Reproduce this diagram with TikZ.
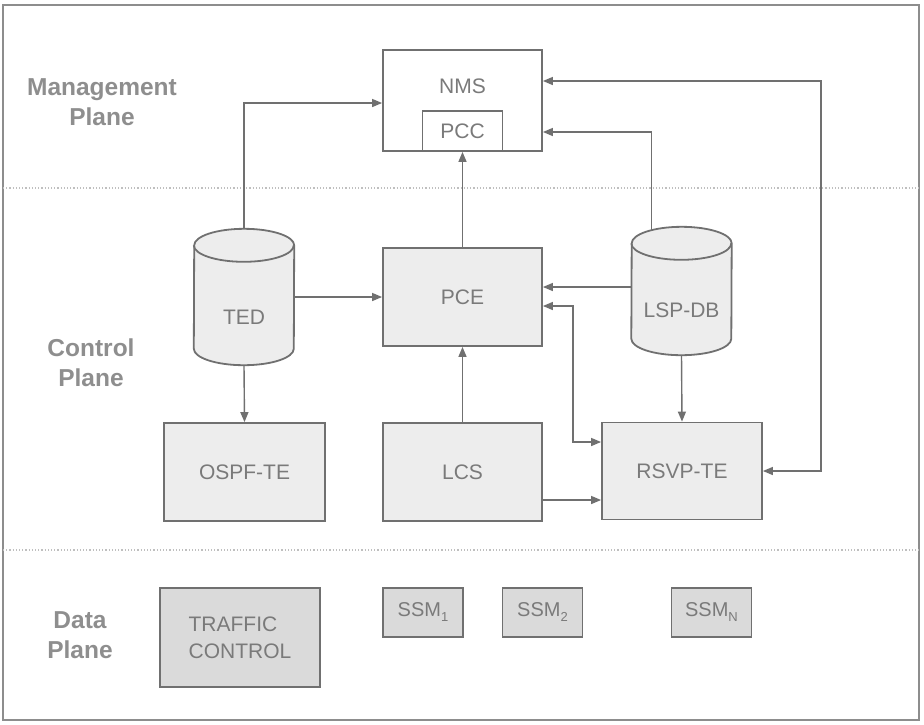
\documentclass[tikz,border=0pt]{standalone}
\usepackage{fontspec}
\setmainfont{Liberation Sans}
\usetikzlibrary{arrows.meta}

\definecolor{linegray}{HTML}{707070}
\definecolor{textgray}{HTML}{7A7A7A}
\definecolor{boxfill}{HTML}{EDEDED}
\definecolor{datafill}{HTML}{DADADA}

\newcommand{\sub}[1]{\raisebox{-5pt}{\fontsize{13}{13}\selectfont #1}}
% database drum drawn round an empty node, #2 = depth of the end caps
\newcommand{\dbshape}[2]{%
	\draw[draw=linegray, line width=1.8pt, fill=boxfill]
		([yshift=#2]#1.south west) arc[start angle=180, end angle=360, x radius=50pt, y radius=#2]
		-- ([yshift=-#2]#1.north east) arc[start angle=0, end angle=180, x radius=50pt, y radius=#2]
		-- cycle;
	\draw[draw=linegray, line width=1.8pt]
		([yshift=-#2]#1.north west) arc[start angle=180, end angle=360, x radius=50pt, y radius=#2];
}

\tikzset{
	block/.style={draw=linegray, line width=1.8pt, fill=boxfill, inner sep=0pt,
		minimum width=159pt, minimum height=98pt, text=textgray,
		font=\fontsize{21}{27}\selectfont},
	datablock/.style={block, fill=datafill},
	dbase/.style={inner sep=0pt, minimum width=100pt},
	boxtext/.style={text=textgray, font=\fontsize{21}{27}\selectfont, inner sep=0pt},
	planelabel/.style={text=textgray!85, align=center,
		font=\bfseries\fontsize{24.5}{30}\selectfont},
	conn/.style={draw=linegray, line width=1.4pt, -{Triangle[length=10pt,width=8pt]}},
	biconn/.style={conn, {Triangle[length=10pt,width=8pt]}-{Triangle[length=10pt,width=8pt]}},
}

\begin{document}
\begin{tikzpicture}[x=1pt, y=-1pt]
	\useasboundingbox (0,0) rectangle (924,724);
	% frame and plane separators
	\draw[linegray!80, line width=1.5pt] (3,5) rectangle (919,720);
	\draw[gray!50, dotted, line width=1.2pt] (3,188) -- (919,188);
	\draw[gray!50, dotted, line width=1.2pt] (3,550) -- (919,550);

	\node[planelabel] (mgmt) at (102,102) {Management\\Plane};
	\node[planelabel] (ctrl) at (91,363) {Control\\Plane};
	\node[planelabel] (data) at (80,635) {Data\\Plane};

	% management plane
	\node[block, fill=white, minimum height=101pt] (nms) at (462.5,100.5) {};
	\node[boxtext] (nmstext) at (462.5,86) {NMS};
	\node[block, fill=white, minimum width=80pt, minimum height=40pt] (pcc) at (462.5,131) {PCC};

	% control plane
	\node[dbase, minimum height=136pt] (ted) at (244,297) {};
	\dbshape{ted}{16.5pt}
	\node[boxtext] (tedtext) at (244,317) {TED};
	\node[block] (pce) at (462.5,297) {PCE};
	\node[dbase, minimum height=128pt] (lspdb) at (681.5,291) {};
	\dbshape{lspdb}{16.5pt}
	\node[boxtext] (lspdbtext) at (681.5,310) {LSP-DB};
	\node[block, minimum width=161pt] (ospf) at (244.5,472) {OSPF-TE};
	\node[block] (lcs) at (462.5,472) {LCS};
	\node[block, minimum width=160pt, minimum height=97pt] (rsvp) at (682,471) {RSVP-TE};

	% data plane
	\node[datablock, minimum width=160pt, minimum height=99pt, align=left,
		xshift=-4pt] (traffic) at (244,637.5) {TRAFFIC\\CONTROL};
	\node[datablock, minimum width=80pt, minimum height=49pt,
		font=\fontsize{20}{24}\selectfont] (ssm1) at (423,612.5) {SSM\sub{1}};
	\node[datablock, minimum width=80pt, minimum height=49pt,
		font=\fontsize{20}{24}\selectfont] (ssm2) at (542.5,612.5) {SSM\sub{2}};
	\node[datablock, minimum width=80pt, minimum height=49pt,
		font=\fontsize{20}{24}\selectfont] (ssmn) at (711.5,612.5) {SSM\sub{N}};

	% connectors
	\coordinate (nmsbus) at (821,81);
	\coordinate (pcebus) at (573,306);
	\draw[conn] (ted.north) |- ([yshift=-2.5pt]nms.west);
	\draw[conn] ([xshift=-30pt,yshift=-3pt]lspdb.north) |- ([yshift=-31.5pt]nms.east);
	\draw[biconn] ([yshift=19.5pt]nms.east) -- (nmsbus) |- (rsvp.east);
	\draw[conn] (pce.north) -- (pcc.south);
	\draw[conn] (ted.east) -- (ted.east -| pce.west);
	\draw[conn] ([yshift=4pt]lspdb.west) -- ([yshift=4pt]lspdb.west -| pce.east);
	\draw[biconn] (pcebus -| pce.east) -- (pcebus) |- ([yshift=29pt]rsvp.west);
	\draw[conn] (lspdb.south) -- (rsvp.north);
	\draw[conn] (ted.south) -- (ospf.north);
	\draw[conn] (lcs.north) -- (pce.south);
	\draw[conn] ([yshift=-28pt]lcs.east) -- ([yshift=-28pt]lcs.east -| rsvp.west);
\end{tikzpicture}
\end{document}
